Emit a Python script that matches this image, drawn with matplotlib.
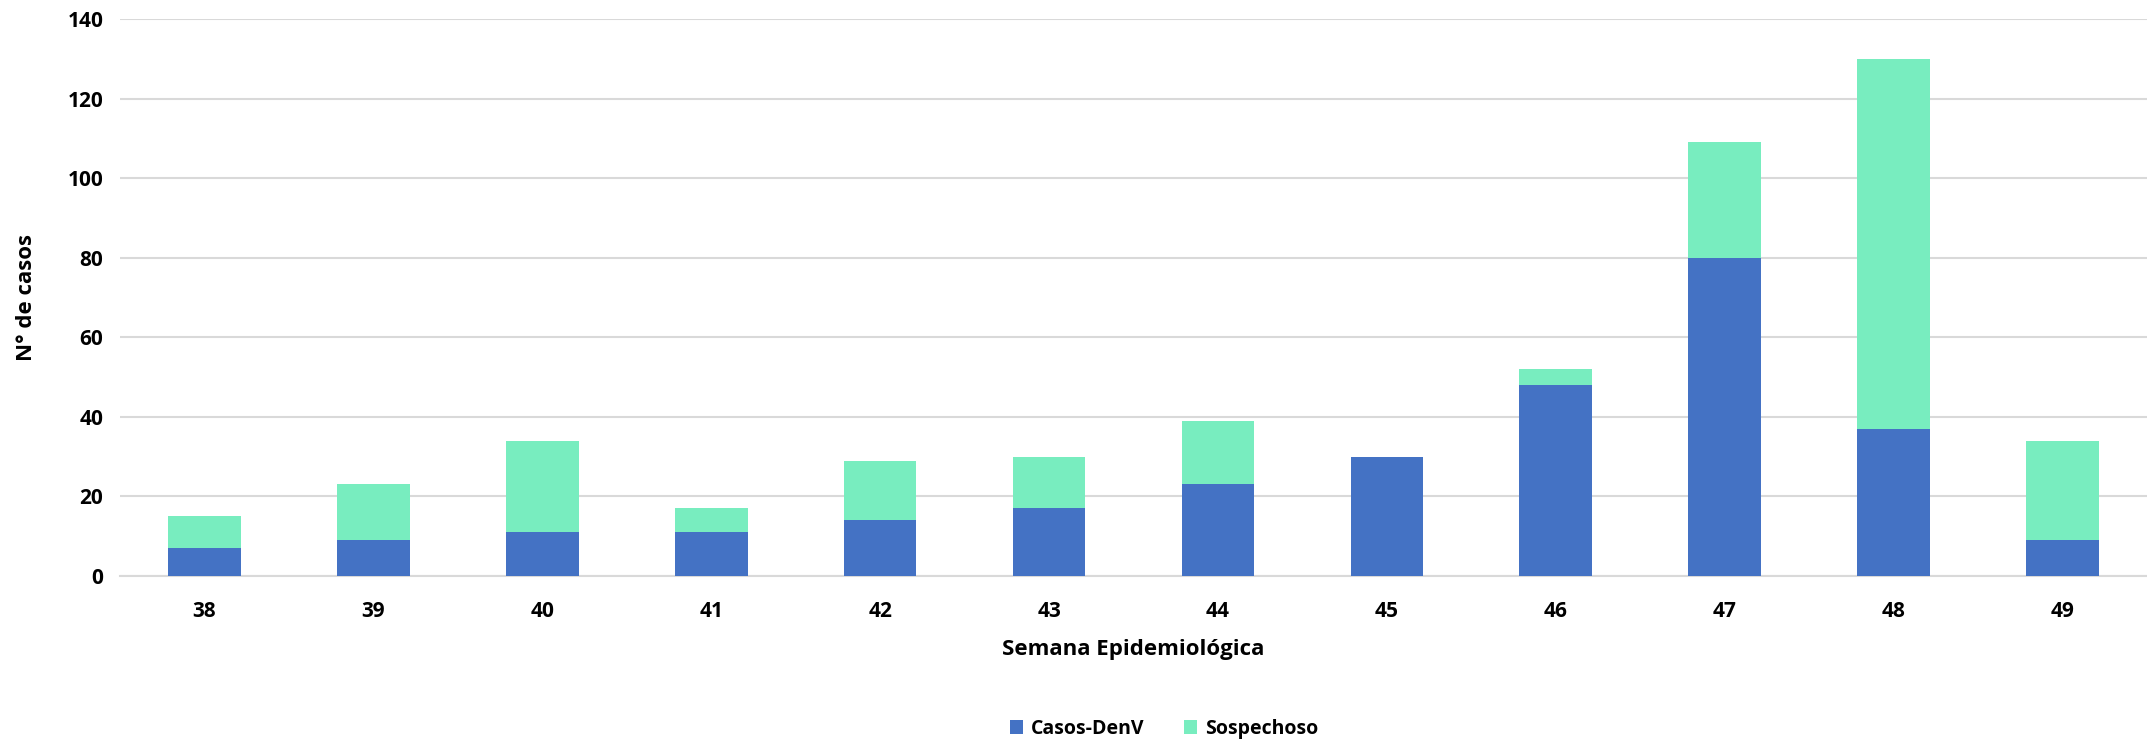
import matplotlib
matplotlib.use("Agg")
import matplotlib.pyplot as plt
import numpy as np

weeks = ["38", "39", "40", "41", "42", "43", "44", "45", "46", "47", "48", "49"]
casos_denv = [7, 9, 11, 11, 14, 17, 23, 30, 48, 80, 37, 9]
sospechoso = [8, 14, 23, 6, 15, 13, 16, 0, 4, 29, 93, 25]
yticks = [0, 20, 40, 60, 80, 100, 120, 140]

plt.rcParams['font.family'] = ['Open Sans', 'DejaVu Sans']

fig = plt.figure(figsize=(21.47, 7.40), dpi=100)
ax = fig.add_axes([120/2147, 1-576/740, 1-120/2147, (576-19)/740])

x = np.arange(len(weeks))
blue = "#4472C4"
green = "#78EDBF"
ax.bar(x, casos_denv, width=0.43, color=blue, label="Casos-DenV", zorder=3)
ax.bar(x, sospechoso, width=0.43, bottom=casos_denv, color=green, label="Sospechoso", zorder=3)

ax.set_xlim(-0.5, len(weeks) - 0.5)
ax.set_ylim(0, 140)
ax.set_yticks(yticks)
ax.set_xticks(x)
ax.set_xticklabels(weeks)
ax.grid(axis='y', color="#D9D9D9", linewidth=1.5, zorder=0)
for s in ['top', 'right', 'left']:
    ax.spines[s].set_visible(False)
ax.spines['bottom'].set_color("#D9D9D9")
ax.spines['bottom'].set_linewidth(1.5)
ax.tick_params(axis='both', length=0, labelsize=15)
ax.tick_params(axis='x', pad=18)
ax.tick_params(axis='y', pad=12)
for lab in ax.get_xticklabels() + ax.get_yticklabels():
    lab.set_fontweight('bold')

ax.set_ylabel("N° de casos", fontsize=16, fontweight='bold', labelpad=22)
ax.set_xlabel("Semana Epidemiológica", fontsize=16, fontweight='bold', labelpad=12)

fig.legend(loc='center', bbox_to_anchor=(1164/2147, 1-729/740), ncol=2, frameon=False,
           prop={'weight': 'bold', 'size': 14}, handlelength=0.7, handleheight=0.7,
           columnspacing=2.0, handletextpad=0.4)

fig.savefig("out.png", dpi=100)
